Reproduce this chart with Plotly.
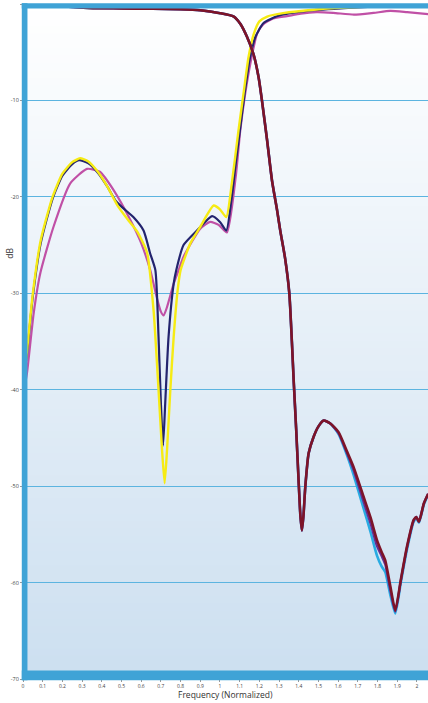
import plotly.graph_objects as go

# ---- data ----
f_yellow = [0.005, 0.02, 0.05, 0.09, 0.15, 0.2, 0.25, 0.29, 0.33, 0.38, 0.43, 0.48, 0.53, 0.58, 0.63,
            0.663, 0.688, 0.706, 0.719, 0.731, 0.748, 0.765, 0.785, 0.8, 0.85, 0.9, 0.968, 1.0, 1.032,
            1.06, 1.094, 1.12, 1.145, 1.17, 1.2, 1.24, 1.32, 1.49, 1.66, 1.85, 2.06]
db_yellow = [-38.5, -36, -30, -24.5, -20, -17.6, -16.4, -16.0, -16.3, -17.4, -19.0, -20.9, -22.3, -23.6, -25.8,
             -31.8, -40, -46.3, -49.7, -46.3, -40, -34.5, -29.7, -27.6, -24.8, -23.1, -20.9, -21.3, -22.1,
             -18.6, -13.1, -9.2, -5.5, -3.2, -1.8, -1.3, -0.95, -0.57, -0.35, -0.2, -0.1]

f_navy = [0.005, 0.02, 0.05, 0.09, 0.15, 0.2, 0.25, 0.285, 0.33, 0.38, 0.43, 0.47, 0.51, 0.56, 0.612, 0.646,
          0.672, 0.688, 0.70, 0.711, 0.722, 0.739, 0.765, 0.778, 0.815, 0.883, 0.96, 1.0, 1.032, 1.06, 1.078,
          1.1, 1.125, 1.15, 1.18, 1.22, 1.3, 1.45, 1.65, 1.85, 2.06]
db_navy = [-38.5, -36.3, -30.3, -24.8, -20.2, -17.8, -16.6, -16.2, -16.5, -17.5, -19.0, -20.4, -21.2, -22.1, -23.5, -25.9,
           -27.6, -34.5, -41.4, -45.8, -41.4, -34.5, -29.0, -27.6, -25.0, -23.5, -22.0, -22.6, -23.5, -20.0, -16.9,
           -13.3, -9.3, -5.8, -3.4, -2.0, -1.2, -0.7, -0.4, -0.2, -0.1]

f_magenta = [0.005, 0.02, 0.054, 0.088, 0.155, 0.24, 0.325, 0.39, 0.46, 0.545, 0.6, 0.646, 0.68, 0.70, 0.714,
             0.73, 0.765, 0.79, 0.815, 0.9, 0.95, 0.993, 1.035, 1.08, 1.103, 1.128, 1.154, 1.188, 1.22, 1.27,
             1.34, 1.41, 1.49, 1.575, 1.68, 1.78, 1.865, 1.95, 2.06]
db_magenta = [-40, -38.3, -32.1, -27.9, -23.1, -18.6, -17.1, -17.4, -19.3, -22.4, -24.8, -27.6, -30.5, -31.9, -32.3,
              -31.5, -29.0, -27.6, -26.2, -23.3, -22.6, -22.9, -23.7, -17.9, -13.1, -9.3, -6.2, -3.1, -2.1, -1.5,
              -1.26, -1.0, -0.85, -0.92, -1.1, -0.92, -0.72, -0.85, -1.05]

f_lp = [0.0, 0.1, 0.325, 0.5, 0.66, 0.8, 0.9, 1.0, 1.07, 1.103, 1.137, 1.17, 1.196, 1.213, 1.239, 1.264, 1.29,
        1.306, 1.33, 1.352, 1.365, 1.374, 1.387, 1.399, 1.408, 1.416, 1.424, 1.433, 1.45, 1.475, 1.5, 1.526,
        1.56, 1.602, 1.645, 1.678, 1.729, 1.765, 1.797, 1.82, 1.839, 1.865, 1.89, 1.918, 1.949, 1.983, 1.997,
        2.01, 2.035, 2.057]
db_red = [0, -0.1, -0.4, -0.45, -0.5, -0.55, -0.65, -0.95, -1.3, -2.05, -3.4, -5.2, -7.6, -10, -14.1, -18.3, -21.4,
          -23.5, -26.3, -30, -35, -39, -44.2, -49.4, -53, -54.6, -53, -50.1, -46.6, -44.9, -43.8, -43.2,
          -43.5, -44.4, -46.4, -48.0, -51.1, -53.3, -55.6, -56.8, -57.7, -60.4, -62.9, -59.7, -56.3, -53.5, -53.2,
          -53.7, -51.8, -50.8]
db_cyan = [0, -0.1, -0.4, -0.45, -0.5, -0.55, -0.65, -0.95, -1.3, -2.05, -3.4, -5.2, -7.6, -10, -14.1, -18.3, -21.4,
           -23.5, -26.3, -30, -35, -39, -44.2, -49.4, -53, -54.6, -53, -50.1, -46.6, -44.9, -43.8, -43.2,
           -43.5, -44.6, -46.8, -48.8, -52.3, -54.8, -57.2, -58.3, -58.9, -61.3, -63.2, -60.0, -56.6, -53.7, -53.3,
           -53.8, -51.9, -50.9]
db_purple = [0, -0.1, -0.4, -0.45, -0.5, -0.55, -0.65, -0.95, -1.3, -2.05, -3.4, -5.2, -7.6, -10, -14.1, -18.3, -21.4,
             -23.5, -26.3, -30, -35, -39, -44.2, -49.4, -53, -54.6, -53, -50.1, -46.6, -44.9, -43.8, -43.2,
             -43.5, -44.5, -46.6, -48.3, -51.6, -53.9, -56.2, -57.2, -58.1, -60.8, -63.0, -59.8, -56.4, -53.6, -53.2,
             -53.7, -51.8, -50.8]

x_tickvals = [0, 0.1, 0.2, 0.3, 0.4, 0.5, 0.6, 0.7, 0.8, 0.9, 1.0, 1.1, 1.2, 1.3, 1.4, 1.5, 1.6, 1.7, 1.8, 1.9, 2.0]
x_ticktext = ["0", "0.1", "0.2", "0.3", "0.4", "0.5", "0.6", "0.7", "0.8", "0.9", "1", "1.1", "1.2", "1.3",
              "1.4", "1.5", "1.6", "1.7", "1.8", "1.9", "2"]
y_tickvals = [0, -10, -20, -30, -40, -50, -60, -70]
y_ticktext = ["0", "-10", "-20", "-30", "-40", "-50", "-60", "-70"]
x_title = "Frequency (Normalized)"
y_title = "dB"

# ---- figure ----
fig = go.Figure()


def add(x, y, color, width):
    fig.add_trace(go.Scatter(x=x, y=y, mode="lines", line=dict(color=color, width=width, shape="spline",
                                                                smoothing=0.55),
                             showlegend=False, hoverinfo="skip"))


add(f_magenta, db_magenta, "#c050a6", 2.2)
add(f_navy, db_navy, "#23246e", 2.2)
add(f_yellow, db_yellow, "#f6eb14", 2.4)
add(f_lp, db_cyan, "#29abe2", 2.6)
add(f_lp, db_purple, "#662d91", 2.4)
add(f_lp, db_red, "#7d1428", 2.6)

# vertical background gradient (white -> light blue)
N = 90
top = (255, 255, 255)
bot = (204, 223, 240)
shapes = []
for i in range(N):
    t = (i + 0.5) / N
    c = tuple(round(top[k] + (bot[k] - top[k]) * t) for k in range(3))
    shapes.append(dict(type="rect", xref="paper", yref="paper", x0=0, x1=1,
                       y0=1 - (i + 1) / N, y1=1 - i / N + 0.001, line=dict(width=0),
                       fillcolor="rgb(%d,%d,%d)" % c, layer="below"))

frame = "#3fa3d6"
shapes += [
    dict(type="rect", xref="paper", yref="paper", x0=-0.003, x1=0.011, y0=-0.002, y1=1.001,
         line=dict(width=0), fillcolor=frame, layer="above"),
    dict(type="rect", xref="paper", yref="paper", x0=-0.003, x1=1.0, y0=0.9935, y1=1.001,
         line=dict(width=0), fillcolor=frame, layer="above"),
    dict(type="rect", xref="paper", yref="paper", x0=-0.003, x1=1.0, y0=-0.002, y1=0.0125,
         line=dict(width=0), fillcolor=frame, layer="above"),
]

fig.update_layout(
    width=428, height=703,
    margin=dict(l=23, r=0, t=4, b=24, autoexpand=False),
    paper_bgcolor="white",
    plot_bgcolor="rgba(0,0,0,0)",
    shapes=shapes,
    font=dict(family="Open Sans", color="#333333"),
    xaxis=dict(range=[0, 2.056], tickvals=x_tickvals, ticktext=x_ticktext, showgrid=False, automargin=False,
               zeroline=False, tickfont=dict(size=5, color="#444444"), ticks="outside", ticklen=2,
               tickcolor="#999999"),
    yaxis=dict(range=[-70, 0], tickvals=y_tickvals, ticktext=y_ticktext, showgrid=True, automargin=False,
               gridcolor="#5cb4e0", gridwidth=1.4, zeroline=False,
               tickfont=dict(size=5.5, color="#444444"), ticks="outside", ticklen=2, tickcolor="#999999"),
    annotations=[
        dict(text=x_title, xref="paper", yref="paper", x=0.5, y=0, yshift=-15, xanchor="center",
             yanchor="middle", showarrow=False, font=dict(size=8.5, color="#333333")),
        dict(text=y_title, xref="paper", yref="paper", x=0, y=0.63, xshift=-13, xanchor="center",
             yanchor="middle", textangle=-90, showarrow=False, font=dict(size=8.5, color="#333333")),
    ],
)

fig.write_html("out.html", config={"displayModeBar": False},
               post_script="document.body.style.margin='0';document.body.style.overflow='hidden';")
